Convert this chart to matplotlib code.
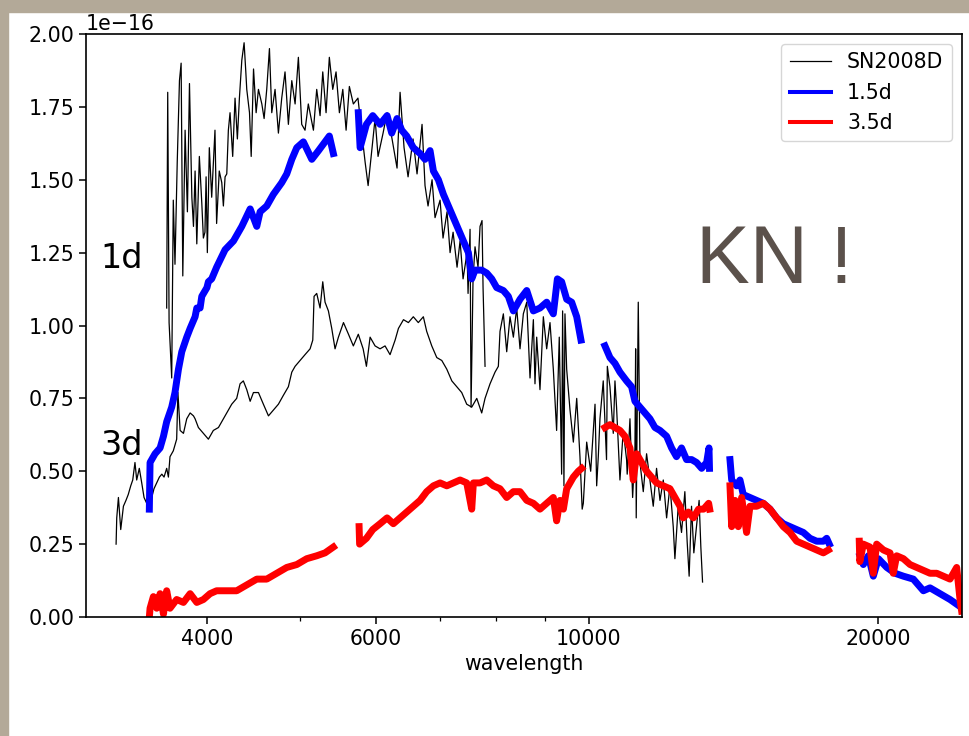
import numpy as np
import matplotlib
matplotlib.use("Agg")
import matplotlib.pyplot as plt
from matplotlib.ticker import FixedLocator, NullFormatter, ScalarFormatter
from matplotlib.patches import Rectangle

plt.rcParams['font.size'] = 14.8

nan = np.nan

# SN2008D, 1 day (upper black spectrum), flux in 1e-16
sn1_wave = [3631, 3640, 3652, 3675, 3689, 3704, 3724, 3744, 3759, 3774, 3795, 3816, 3835, 3857,
            3872, 3887, 3903, 3927, 3950, 3965, 3980, 3991, 4003, 4022, 4045, 4077, 4093, 4119,
            4144, 4160, 4177, 4194, 4210, 4227, 4254, 4278, 4302, 4323, 4348, 4372, 4390, 4400,
            4429, 4447, 4472, 4500, 4525, 4562, 4587, 4616, 4646, 4672, 4709, 4747, 4785, 4823,
            4862, 4902, 4941, 4980, 5020, 5060, 5100, 5163, 5204, 5246, 5280, 5322, 5364, 5408,
            5451, 5495, 5540, 5584, 5628, 5682, 5745, 5803, 5845, 5887, 5943, 5986, 6029, 6102,
            6161, 6235, 6310, 6356, 6417, 6479, 6557, 6620, 6700, 6748, 6797, 6863, 6912, 6996,
            7046, 7114, 7166, 7218, 7287, 7340, 7393, 7464, 7482, 7518, 7536, 7572, 7608, 7663,
            7700, 7737, 7756, 7793]
sn1_flux = [1.06, 1.80, 1.01, 0.82, 1.43, 1.21, 1.56, 1.84, 1.90, 1.17, 1.67, 1.39, 1.83, 1.44,
            1.34, 1.53, 1.28, 1.58, 1.42, 1.30, 1.32, 1.51, 1.25, 1.61, 1.44, 1.67, 1.35, 1.53,
            1.49, 1.41, 1.51, 1.52, 1.67, 1.73, 1.58, 1.78, 1.64, 1.78, 1.91, 1.97, 1.87, 1.81,
            1.73, 1.58, 1.88, 1.73, 1.81, 1.76, 1.71, 1.81, 1.95, 1.73, 1.81, 1.66, 1.78, 1.87,
            1.69, 1.84, 1.76, 1.92, 1.69, 1.67, 1.76, 1.67, 1.81, 1.72, 1.87, 1.73, 1.92, 1.81,
            1.87, 1.73, 1.81, 1.67, 1.82, 1.76, 1.78, 1.65, 1.56, 1.48, 1.61, 1.71, 1.58, 1.66,
            1.73, 1.64, 1.54, 1.80, 1.61, 1.51, 1.64, 1.52, 1.69, 1.48, 1.41, 1.50, 1.37, 1.43,
            1.30, 1.39, 1.25, 1.32, 1.20, 1.29, 1.16, 1.25, 1.11, 1.33, 0.72, 1.16, 1.27, 1.20,
            1.34, 1.36, 1.13, 0.86]

# SN2008D, 3 days (lower black spectrum)
sn3_wave = [3216, 3221, 3234, 3252, 3273, 3293, 3311, 3331, 3347, 3365, 3379, 3400, 3420, 3439,
            3461, 3483, 3503, 3522, 3545, 3568, 3589, 3608, 3631, 3646, 3660, 3689, 3719, 3730,
            3750, 3780, 3810, 3841, 3872, 3887, 3918, 3965, 4013, 4061, 4111, 4160, 4194, 4244,
            4295, 4330, 4364, 4400, 4436, 4471, 4525, 4579, 4635, 4690, 4747, 4803, 4862, 4902,
            4941, 5000, 5060, 5122, 5155, 5171, 5204, 5246, 5280, 5309, 5352, 5395, 5438, 5482,
            5549, 5616, 5682, 5750, 5817, 5863, 5915, 5986, 6058, 6131, 6205, 6281, 6331, 6408,
            6484, 6561, 6640, 6721, 6775, 6858, 6941, 7025, 7110, 7196, 7282, 7369, 7458, 7548,
            7640, 7731, 7793, 7887, 7982, 8046, 8078, 8143, 8209, 8274, 8341, 8408, 8475, 8543,
            8613, 8681, 8751, 8785, 8821, 8891, 8963, 9035, 9107, 9180, 9253, 9312, 9365, 9387,
            9417, 9440, 9479, 9555, 9632, 9710, 9786, 9838, 9865, 9945, 10041, 10146, 10186,
            10226, 10267, 10348, 10430, 10450, 10516, 10600, 10643, 10684, 10771, 10857, 10944,
            10960, 11033, 11104, 11166, 11184, 11200, 11255, 11301, 11391, 11482, 11575, 11667,
            11760, 11857, 11951, 12047, 12144, 12240, 12289, 12387, 12486, 12586, 12655, 12716,
            12789, 12860, 12943, 13024, 13078, 13132]
sn3_flux = [0.25, 0.34, 0.41, 0.30, 0.38, 0.40, 0.42, 0.45, 0.47, 0.53, 0.47, 0.51, 0.46, 0.41,
            0.39, 0.45, 0.41, 0.44, 0.46, 0.48, 0.49, 0.48, 0.51, 0.48, 0.55, 0.57, 0.61, 0.77,
            0.64, 0.63, 0.68, 0.70, 0.69, 0.68, 0.65, 0.63, 0.61, 0.64, 0.65, 0.68, 0.70, 0.73,
            0.75, 0.80, 0.81, 0.78, 0.74, 0.77, 0.77, 0.73, 0.69, 0.71, 0.73, 0.76, 0.79, 0.84,
            0.86, 0.88, 0.90, 0.92, 0.95, 1.10, 1.11, 1.06, 1.15, 1.08, 1.05, 0.99, 0.92, 0.96,
            1.01, 0.97, 0.93, 0.97, 0.92, 0.86, 0.96, 0.93, 0.92, 0.93, 0.90, 0.95, 0.99, 1.02,
            1.01, 1.03, 1.01, 1.03, 0.98, 0.93, 0.89, 0.88, 0.85, 0.81, 0.79, 0.77, 0.73, 0.72,
            0.75, 0.70, 0.75, 0.80, 0.84, 0.86, 0.98, 1.04, 0.91, 1.03, 0.96, 1.06, 0.92, 1.04,
            1.08, 0.82, 1.02, 0.80, 0.96, 0.78, 1.03, 0.92, 1.01, 0.85, 0.64, 0.96, 0.49, 1.05,
            0.45, 1.04, 0.85, 0.71, 0.60, 0.75, 0.55, 0.37, 0.39, 0.60, 0.50, 0.73, 0.45,
            0.55, 0.68, 0.81, 0.54, 0.86, 0.79, 0.63, 0.81, 0.72, 0.47, 0.64, 0.54,
            0.49, 0.68, 0.41, 0.58, 0.92, 0.34, 1.08, 0.53, 0.43, 0.56, 0.47, 0.38,
            0.51, 0.40, 0.47, 0.34, 0.45, 0.31, 0.20, 0.38, 0.29, 0.43, 0.26, 0.14,
            0.38, 0.22, 0.31, 0.40, 0.24, 0.12]

# KN model at 1.5 d (gaps between wavelength segments)
kn15_wave = [3483, 3489, 3531, 3574, 3603, 3631, 3675, 3704, 3735, 3765, 3810, 3841, 3887, 3903,
             3934, 3950, 3999, 4013, 4045, 4093, 4177, 4262, 4348, 4436, 4507, 4543, 4616, 4690,
             4785, 4843, 4902, 4961, 5040, 5143, 5227, 5309, 5364, 5416, nan,
             5750, 5775, 5863, 5953, 6058, 6161, 6230, 6310, 6381, 6458, 6561, 6668, 6748, 6830,
             6885, 6968, 7052, 7137, 7223, 7310, 7398, 7488, 7548, 7608, 7731, 7824, 7919, 8014,
             8143, 8241, 8341, 8475, 8613, 8751, 8891, 9035, 9180, 9270, 9365, 9479, 9593, 9710,
             9786, 9810, nan,
             10390, 10516, 10643, 10771, 10944, 11076, 11166, 11301, 11437, 11575, 11715, 11857,
             12047, 12191, 12336, 12486, 12637, 12792, 12944, 13103, 13261, 13336, 13352, nan,
             14025, 14082, 14251, 14365, 14479, 14714, 14953, 15193, 15438, 15688, 15940, 16197,
             16459, 16724, 16993, 17268, 17545, 17687, 17797, nan,
             19160, 19313, 19545, 19780, 20021, 20430, 20838, 21262, 21773, 22305, 22663, 23213,
             23777, 24255]
kn15_flux = [0.37, 0.53, 0.56, 0.58, 0.62, 0.67, 0.72, 0.77, 0.85, 0.91, 0.96, 0.99, 1.03, 1.06,
             1.06, 1.10, 1.13, 1.15, 1.16, 1.20, 1.26, 1.29, 1.34, 1.40, 1.34, 1.39, 1.41, 1.45,
             1.49, 1.52, 1.57, 1.61, 1.63, 1.57, 1.60, 1.63, 1.65, 1.59, nan,
             1.73, 1.61, 1.69, 1.72, 1.69, 1.72, 1.66, 1.71, 1.67, 1.65, 1.61, 1.59, 1.57, 1.60,
             1.53, 1.50, 1.45, 1.41, 1.37, 1.33, 1.29, 1.25, 1.16, 1.19, 1.19, 1.18, 1.16, 1.13,
             1.12, 1.10, 1.05, 1.09, 1.12, 1.05, 1.06, 1.08, 1.04, 1.16, 1.15, 1.09, 1.08, 1.03,
             0.97, 0.95, nan,
             0.93, 0.89, 0.87, 0.84, 0.81, 0.79, 0.74, 0.72, 0.70, 0.68, 0.65, 0.64,
             0.62, 0.58, 0.55, 0.58, 0.54, 0.54, 0.53, 0.51, 0.53, 0.58, 0.51, nan,
             0.54, 0.47, 0.45, 0.47, 0.42, 0.41, 0.40, 0.39, 0.37, 0.34, 0.32, 0.31,
             0.30, 0.29, 0.27, 0.26, 0.26, 0.27, 0.25, nan,
             0.21, 0.18, 0.21, 0.14, 0.20, 0.17, 0.15, 0.14, 0.13, 0.09, 0.10, 0.08,
             0.06, 0.04]

# KN model at 3.5 d
kn35_wave = [3483, 3489, 3517, 3545, 3574, 3603, 3631, 3660, 3719, 3780, 3841, 3903, 3965, 4029,
             4093, 4194, 4295, 4400, 4507, 4616, 4728, 4843, 4961, 5081, 5204, 5309, 5416, nan,
             5761, 5768, 5863, 5953, 6058, 6161, 6254, 6356, 6458, 6561, 6668, 6775, 6885, 6996,
             7110, 7223, 7340, 7458, 7548, 7578, 7700, 7824, 7950, 8078, 8209, 8341, 8475, 8613,
             8751, 8891, 9035, 9180, 9253, 9328, 9404, 9479, 9632, 9747, 9826, nan,
             10390, 10516, 10643, 10771, 10901, 11033, 11121, 11210, 11346, 11482, 11622, 11760,
             11951, 12144, 12289, 12439, 12538, 12692, 12847, 13005, 13164, 13325, 13358, nan,
             14025, 14082, 14195, 14308, 14423, 14595, 14714, 14953, 15193, 15438, 15688, 15940,
             16197, 16459, 16724, 16993, 17268, 17545, 17758, nan,
             19125, 19150, 19313, 19625, 19780, 19940, 20265, 20590, 20750, 20921, 21262, 21602,
             21953, 22305, 22663, 23030, 23400, 23777, 24160, 24354, 24450]
kn35_flux = [0.00, 0.03, 0.07, 0.03, 0.08, 0.01, 0.09, 0.03, 0.06, 0.05, 0.08, 0.05, 0.06, 0.08,
             0.09, 0.09, 0.09, 0.11, 0.13, 0.13, 0.15, 0.17, 0.18, 0.20, 0.21, 0.22, 0.24, nan,
             0.31, 0.25, 0.27, 0.30, 0.32, 0.34, 0.32, 0.34, 0.36, 0.38, 0.40, 0.43, 0.45, 0.46,
             0.45, 0.46, 0.47, 0.46, 0.37, 0.46, 0.46, 0.47, 0.45, 0.44, 0.41, 0.43, 0.43, 0.40,
             0.39, 0.37, 0.39, 0.41, 0.33, 0.40, 0.37, 0.44, 0.48, 0.50, 0.51, nan,
             0.65, 0.66, 0.65, 0.64, 0.62, 0.58, 0.47, 0.56, 0.53, 0.50, 0.48, 0.46,
             0.45, 0.44, 0.41, 0.38, 0.34, 0.36, 0.34, 0.37, 0.37, 0.39, 0.37, nan,
             0.45, 0.31, 0.40, 0.31, 0.41, 0.29, 0.38, 0.38, 0.39, 0.37, 0.34, 0.31,
             0.29, 0.26, 0.25, 0.24, 0.23, 0.22, 0.23, nan,
             0.26, 0.19, 0.25, 0.24, 0.15, 0.25, 0.23, 0.22, 0.15, 0.21, 0.20, 0.18,
             0.17, 0.16, 0.15, 0.15, 0.14, 0.13, 0.17, 0.06, 0.02]

xticks_major = [4000, 6000, 10000, 20000]
xticks_minor = [5000, 7000, 8000, 9000]

unit = 1e-16

fig = plt.figure(figsize=(9.7, 7.36), dpi=100)
# slide border: top and left strips
fig.patches.append(Rectangle((0, 1 - 12 / 736), 1, 12 / 736, transform=fig.transFigure,
                             color='#b3a998', zorder=0))
fig.patches.append(Rectangle((0, 0), 8 / 970, 1, transform=fig.transFigure,
                             color='#b3a998', zorder=0))

ax = fig.add_axes([86 / 970, 1 - 617 / 736, 876 / 970, 583 / 736])

ax.plot(sn1_wave, np.array(sn1_flux) * unit, color='black', lw=0.9, label='SN2008D')
ax.plot(sn3_wave, np.array(sn3_flux) * unit, color='black', lw=0.9)
ax.plot(kn15_wave, np.array(kn15_flux) * unit, color='blue', lw=5, label='1.5d')
ax.plot(kn35_wave, np.array(kn35_flux) * unit, color='red', lw=5, label='3.5d')

ax.set_xscale('log')
ax.set_xlim(2992, 24470)
ax.set_ylim(0, 2e-16)
ax.xaxis.set_major_locator(FixedLocator(xticks_major))
ax.xaxis.set_minor_locator(FixedLocator(xticks_minor))
ax.xaxis.set_major_formatter(ScalarFormatter())
ax.xaxis.set_minor_formatter(NullFormatter())
ax.set_yticks(np.arange(0, 2.01, 0.25) * unit)
ax.tick_params(which='major', length=5, width=1.1)
ax.tick_params(which='minor', length=3, width=0.9)
for s in ax.spines.values():
    s.set_linewidth(1.2)
ax.set_xlabel('wavelength')

leg = ax.legend(loc='upper right', fontsize=14.8)
for ln in leg.get_lines():
    if ln.get_color() != 'black':
        ln.set_linewidth(2.9)

ax.text(3095, 1.197e-16, '1d', fontsize=24, va='baseline')
ax.text(3095, 0.556e-16, '3d', fontsize=24, va='baseline')
ax.text(12925, 1.146e-16, 'KN !', fontsize=58, family='Liberation Sans',
        color='#5b514b', va='baseline')

fig.savefig('out.png', dpi=100)
